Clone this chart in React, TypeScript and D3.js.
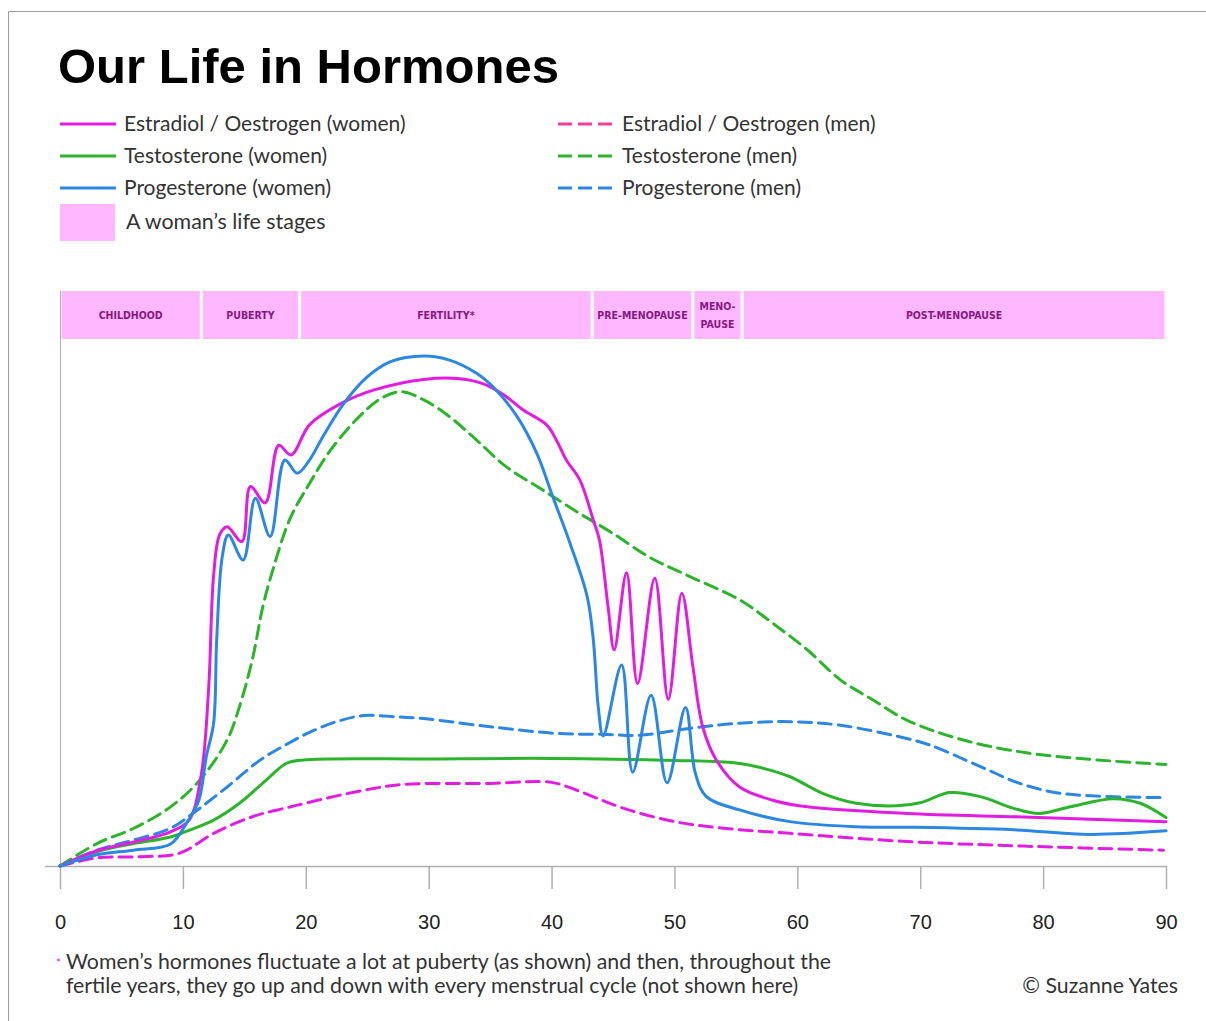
import React, { useRef, useEffect } from 'react';
import * as d3 from 'd3';

// ages on the x axis
const ageTicks = [0, 10, 20, 30, 40, 50, 60, 70, 80, 90];

// relative hormone levels (0-100) as [age, level]
const estradiolWomen: [number, number][] = [
  [0, 0], [3, 3], [6, 4.7], [9, 6.7], [10.5, 9], [11.5, 18], [12.1, 35], [12.5, 57], [13, 65], [13.6, 66.5],
  [14.8, 63.6], [15.5, 74.4], [16.7, 71.2], [17.8, 82.5], [18.8, 80.6], [20.3, 86.5], [22.8, 90.6],
  [25.5, 93.3], [29.6, 95.4], [32.3, 95.6], [34.4, 94.6], [36.1, 92.4], [37.7, 89.4], [39.6, 86.5],
  [40.4, 83.5], [41.2, 79.6], [42.3, 75.7], [43.4, 67.8], [43.9, 63.9], [44.6, 50.8], [45.1, 42.4],
  [46.1, 57.5], [47, 35.8], [48.4, 56.4], [49.5, 32.7], [50.6, 53.5], [51.5, 39.1], [52.3, 27.3],
  [53.4, 20.8], [55.3, 15.5], [58, 12.9], [60.8, 11.6], [68.9, 10.3], [78.4, 9.6], [90, 8.7]
];

const progesteroneWomen: [number, number][] = [
  [0, 0], [3, 2.2], [6, 3.1], [9, 4.3], [10.3, 8.4], [11.3, 12.9], [11.9, 21.4], [12.5, 28], [12.75, 44.3],
  [13.2, 60.6], [13.7, 64.9], [14.9, 60], [15.9, 72.1], [17.1, 64.6], [18.3, 79.6], [19.3, 77],
  [20.3, 79.6], [21.4, 84.2], [23.1, 90.7], [25, 95.9], [26.9, 98.9], [29.6, 100], [31.7, 99.2],
  [33.9, 96.6], [35.5, 93.3], [37.2, 88.1], [38.8, 80.9], [40.1, 72.4], [41.5, 63.3], [42.9, 52.8],
  [43.4, 44.3], [43.8, 31.2], [44.2, 25.5], [45.7, 39.4], [46.6, 18.4], [48.1, 33.5], [49.4, 16.3],
  [50.9, 31.1], [51.7, 18.2], [52.6, 13.6], [55.3, 11], [59.4, 8.7], [64.8, 7.7], [68.9, 7.6],
  [77.6, 7.1], [83.8, 6.2], [90, 6.9]
];

const testosteroneWomen: [number, number][] = [
  [0, 0], [3, 2.8], [6, 4.4], [9, 5.7], [10.6, 7.1], [12.5, 9], [14.6, 12.3], [16.8, 16.9], [18.4, 20.1],
  [19.8, 20.8], [30, 21], [40, 21.1], [50, 20.7], [55, 20.2], [57, 19.3], [59.4, 17.5], [62.1, 14.2],
  [64.8, 12.3], [68.1, 11.8], [70, 12.4], [72.4, 14.4], [74.9, 13.6], [77.6, 11.3], [79.7, 10.3],
  [82.2, 11.6], [85.7, 13.2], [87.9, 12.3], [90, 9.5]
];

const estradiolMen: [number, number][] = [
  [0, 0], [3, 1.6], [6, 1.8], [9.2, 2.2], [10.3, 3.1], [12.5, 6.4], [15.7, 9.7], [18.4, 11.4], [20.3, 12.5],
  [22.8, 13.9], [25.5, 15.2], [27.9, 16], [35, 16.2], [40, 16.4], [42, 14.9], [44, 13], [46, 11.2],
  [50, 8.7], [54, 7.4], [59.4, 6.4], [68.9, 4.8], [78.4, 3.9], [89.8, 3.1]
];

const testosteroneMen: [number, number][] = [
  [0, 0], [3, 4.4], [6, 7.4], [9, 11.6], [11.4, 16.9], [13.6, 24.7], [14.6, 31.2], [15.7, 41], [16.5, 50.8],
  [17.4, 58.7], [18.7, 68], [20.3, 75], [22, 81.5], [24.1, 87.5], [26, 91.5], [27.7, 93], [29.6, 91.4],
  [31.7, 88.1], [33.9, 83.5], [36.3, 78.3], [39.3, 73.7], [42.3, 69.1], [44.8, 65.5], [48, 60.5],
  [51.3, 56.7], [55.3, 52.2], [58, 47.6], [60.8, 42.4], [63.5, 36.5], [66.2, 32.5], [68.9, 28.6],
  [73.5, 24.7], [78.9, 22.1], [84.4, 20.8], [90, 19.9]
];

const progesteroneMen: [number, number][] = [
  [0, 0], [3, 3.1], [6, 5.1], [9, 7.4], [10.8, 10.3], [13.6, 15.5], [16.3, 20.8], [18.4, 23.8], [20.3, 26.2],
  [22.5, 28.3], [24.7, 29.5], [27, 29.3], [29.6, 28.9], [35, 27.3], [40.4, 26], [44.5, 25.8], [47, 25.6],
  [51.3, 27], [55.3, 28], [59.4, 28.3], [63.5, 27.6], [68.9, 25], [70.8, 23.7], [74.9, 19.5], [78.1, 16.2],
  [81.6, 14.2], [90, 13.4]
];

// life stages
const stageNames = ['CHILDHOOD', 'PUBERTY', 'FERTILITY*', 'PRE-MENOPAUSE', 'MENO-|PAUSE', 'POST-MENOPAUSE'];
const stageStarts = [0, 11.5, 19.5, 43.3, 51.5, 55.5];
const stageEnds = [11.5, 19.5, 43.3, 51.5, 55.5, 90];

const magenta = '#e21de2';
const pink = '#ef3f98';
const green = '#2cb42c';
const blue = '#2b87e2';

const App: React.FC = () => {
  const ref = useRef(null);

  useEffect(() => {
    const svg = d3.select(ref.current);
    svg.selectAll('*').remove();

    const x = d3.scaleLinear().domain([0, 90]).range([60, 1166]);
    const y = d3.scaleLinear().domain([0, 100]).range([866, 356]);

    // frame
    svg.append('path')
      .attr('d', 'M8.5,1021 V11.5 H1206')
      .attr('fill', 'none')
      .attr('stroke', '#9a9a9a')
      .attr('stroke-width', 1);

    svg.append('text')
      .attr('x', 58).attr('y', 83)
      .attr('font-family', '"Liberation Sans", Arial, sans-serif')
      .attr('font-weight', 'bold')
      .attr('font-size', 49)
      .attr('fill', '#000')
      .text('Our Life in Hormones');

    // legend
    const legendFont = 'Lato, "Noto Sans", sans-serif';
    const legend = [
      { label: 'Estradiol / Oestrogen (women)', color: magenta, dashed: false, col: 0, row: 0 },
      { label: 'Testosterone (women)', color: green, dashed: false, col: 0, row: 1 },
      { label: 'Progesterone (women)', color: blue, dashed: false, col: 0, row: 2 },
      { label: 'Estradiol / Oestrogen (men)', color: pink, dashed: true, col: 1, row: 0 },
      { label: 'Testosterone (men)', color: green, dashed: true, col: 1, row: 1 },
      { label: 'Progesterone (men)', color: blue, dashed: true, col: 1, row: 2 }
    ];
    legend.forEach(d => {
      const lx = d.col === 0 ? 60 : 558;
      const ly = 124 + d.row * 32;
      svg.append('line')
        .attr('x1', lx).attr('x2', lx + 56)
        .attr('y1', ly).attr('y2', ly)
        .attr('stroke', d.color)
        .attr('stroke-width', 3)
        .attr('stroke-dasharray', d.dashed ? '14,6' : null);
      svg.append('text')
        .attr('x', lx + 64).attr('y', ly + 7)
        .attr('font-family', legendFont)
        .attr('font-size', 21)
        .attr('fill', '#333')
        .text(d.label);
    });
    svg.append('rect')
      .attr('x', 60).attr('y', 204).attr('width', 55).attr('height', 37)
      .attr('fill', '#ffb8ff');
    svg.append('text')
      .attr('x', 126).attr('y', 229)
      .attr('font-family', legendFont)
      .attr('font-size', 21.4)
      .attr('fill', '#333')
      .text('A woman\u2019s life stages');

    // life stage band
    stageNames.forEach((name, i) => {
      const x0 = x(stageStarts[i]) + 1.5;
      const x1 = x(stageEnds[i]) - 1.5;
      svg.append('rect')
        .attr('x', x0).attr('y', 291)
        .attr('width', x1 - x0).attr('height', 48)
        .attr('fill', '#ffb8ff');
      const lines = name.split('|');
      lines.forEach((t, j) => {
        svg.append('text')
          .attr('x', (x0 + x1) / 2)
          .attr('y', 315 + (j - (lines.length - 1) / 2) * 18)
          .attr('text-anchor', 'middle')
          .attr('dominant-baseline', 'central')
          .attr('font-family', '"DejaVu Sans Condensed", "Liberation Sans Narrow", sans-serif')
          .attr('font-weight', 'bold')
          .attr('font-size', 10.5)
          .attr('fill', '#861784')
          .text(t);
      });
    });

    // axes
    svg.append('line')
      .attr('x1', 60.5).attr('x2', 60.5)
      .attr('y1', 291).attr('y2', 866)
      .attr('stroke', '#b0b0b0');
    svg.append('line')
      .attr('x1', 45).attr('x2', 1166)
      .attr('y1', 866.5).attr('y2', 866.5)
      .attr('stroke', '#b0b0b0')
      .attr('stroke-width', 1.5);

    const xAxis = svg.append('g')
      .attr('transform', 'translate(0,866)')
      .call(d3.axisBottom(x).tickValues(ageTicks).tickSize(23).tickPadding(26).tickFormat(d3.format('d')));
    xAxis.select('.domain').remove();
    xAxis.selectAll('line').attr('stroke', '#b0b0b0').attr('stroke-width', 1.5);
    xAxis.selectAll('text')
      .attr('font-family', '"Liberation Sans", Arial, sans-serif')
      .attr('font-size', 20)
      .attr('fill', '#222');

    // hormone curves
    const series = [
      { data: estradiolMen, color: magenta, dashed: true },
      { data: progesteroneMen, color: blue, dashed: true },
      { data: testosteroneMen, color: green, dashed: true },
      { data: testosteroneWomen, color: green, dashed: false },
      { data: estradiolWomen, color: magenta, dashed: false },
      { data: progesteroneWomen, color: blue, dashed: false }
    ];
    const line = d3.line<[number, number]>()
      .x(d => x(d[0]))
      .y(d => y(d[1]))
      .curve(d3.curveCatmullRom.alpha(0.5));
    series.forEach(s => {
      svg.append('path')
        .datum(s.data)
        .attr('fill', 'none')
        .attr('stroke', s.color)
        .attr('stroke-width', 3)
        .attr('stroke-linecap', 'round')
        .attr('stroke-linejoin', 'round')
        .attr('stroke-dasharray', s.dashed ? '13,7' : null)
        .attr('d', line);
    });

    // footnote
    svg.append('text')
      .attr('x', 56).attr('y', 967)
      .attr('font-family', legendFont)
      .attr('font-size', 12)
      .attr('fill', magenta)
      .text('*');
    const foot = svg.append('text')
      .attr('font-family', legendFont)
      .attr('font-size', 21.3)
      .attr('fill', '#333');
    foot.append('tspan').attr('x', 66).attr('y', 969)
      .text('Women\u2019s hormones fluctuate a lot at puberty (as shown) and then, throughout the');
    foot.append('tspan').attr('x', 66).attr('y', 993)
      .text('fertile years, they go up and down with every menstrual cycle (not shown here)');
    svg.append('text')
      .attr('x', 1178).attr('y', 993)
      .attr('text-anchor', 'end')
      .attr('font-family', legendFont)
      .attr('font-size', 21.3)
      .attr('fill', '#333')
      .text('\u00a9 Suzanne Yates');
  }, []);

  return (
    <svg
      ref={ref}
      width={1206}
      height={1021}
      style={{ position: 'absolute', left: 0, top: 0, display: 'block', background: '#fff' }}
    />
  );
};

export default App;
